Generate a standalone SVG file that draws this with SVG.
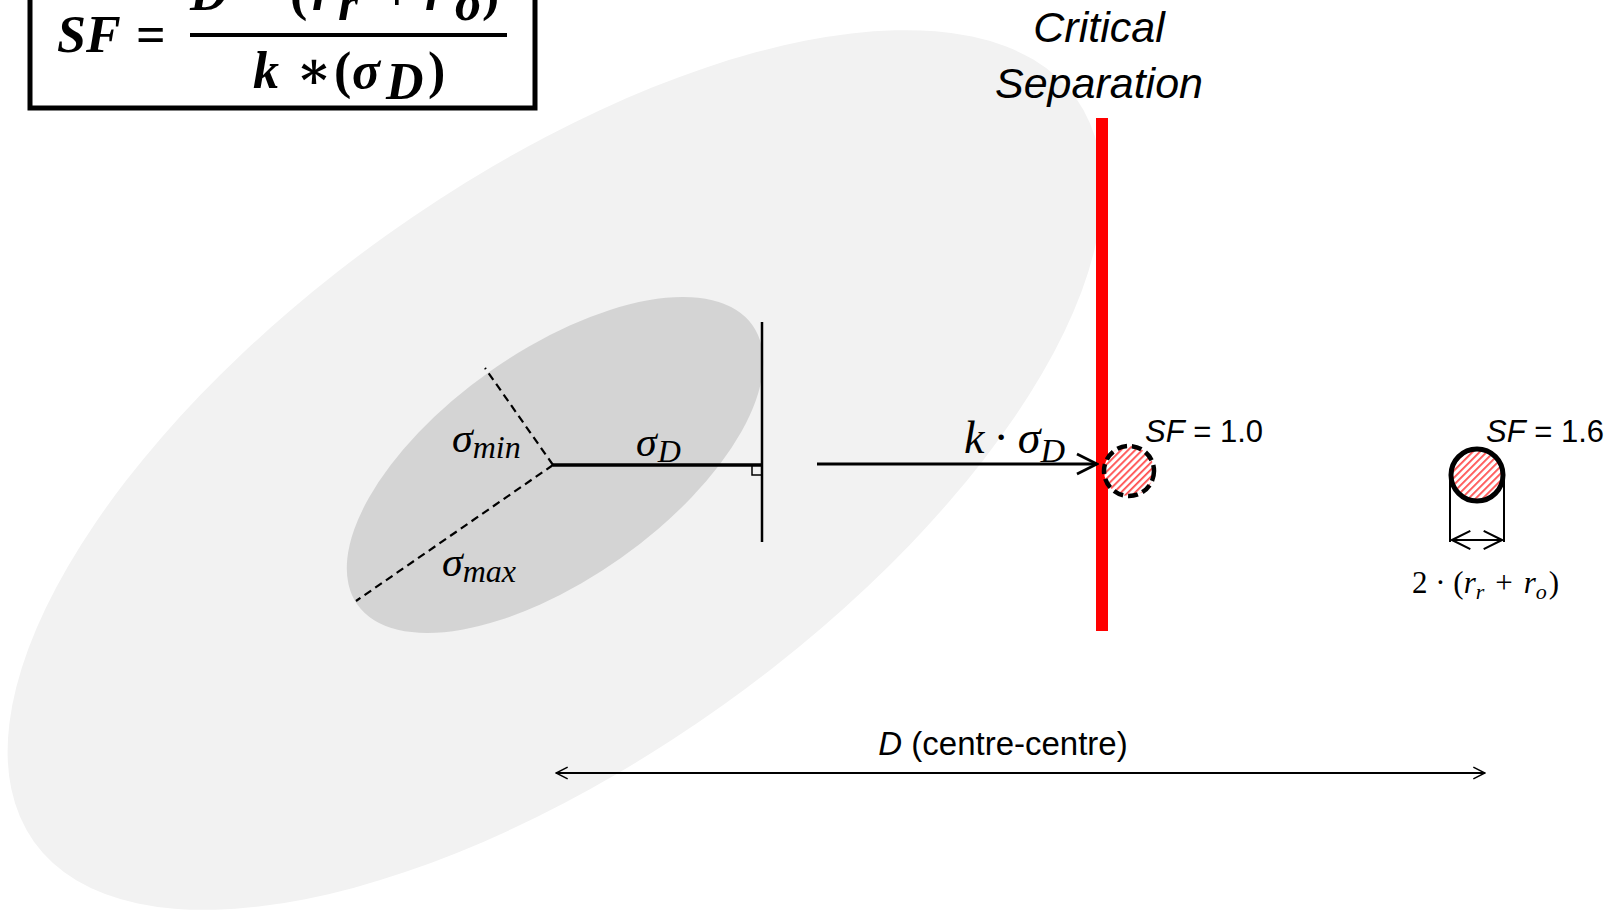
<svg xmlns="http://www.w3.org/2000/svg" width="1620" height="912" viewBox="0 0 1620 912">
  <style>
    .serif { font-family: "Liberation Serif", "DejaVu Serif", serif; }
    .fbold { font-family: "Liberation Serif", "DejaVu Serif", serif; font-weight: bold; font-size: 52px; fill: #000; }
    .mi { font-family: "Liberation Serif", "DejaVu Serif", serif; font-style: italic; fill: #000; }
    .sans { font-family: "Liberation Sans", Arial, sans-serif; fill: #000; }
    .ln { stroke: #000; fill: none; }
  </style>
  <defs>
    <pattern id="hatch" patternUnits="userSpaceOnUse" width="5" height="5" patternTransform="rotate(45)">
      <rect width="5" height="5" fill="#ffffff"/>
      <rect x="0" y="0" width="1.8" height="5" fill="#ff5050"/>
    </pattern>
    <marker id="chev" viewBox="0 0 12 12" refX="11" refY="6" markerWidth="7" markerHeight="7" orient="auto-start-reverse" markerUnits="strokeWidth">
      <path d="M1,1 L11,6 L1,11" fill="none" stroke="#000" stroke-width="1.3"/>
    </marker>
    <marker id="chevK" viewBox="0 0 12 12" refX="11" refY="6" markerWidth="8" markerHeight="8" orient="auto" markerUnits="strokeWidth">
      <path d="M1,1 L11,6 L1,11" fill="none" stroke="#000" stroke-width="1.4"/>
    </marker>
    <marker id="chevS" viewBox="0 0 12 12" refX="11" refY="6" markerWidth="11" markerHeight="11" orient="auto-start-reverse" markerUnits="strokeWidth">
      <path d="M1,1 L11,6 L1,11" fill="none" stroke="#000" stroke-width="1.1"/>
    </marker>
  </defs>

  <rect width="1620" height="912" fill="#ffffff"/>

  <!-- uncertainty ellipses -->
  <g id="outer-ellipse">
    <ellipse cx="555" cy="470" rx="640" ry="289" transform="rotate(-35.5 555 470)" fill="#f2f2f2"/>
  </g>
  <g id="inner-ellipse">
    <ellipse cx="555" cy="465" rx="242" ry="114" transform="rotate(-35.3 555 465)" fill="#d4d4d4"/>
    <line class="ln" x1="553" y1="465" x2="485" y2="368" stroke-width="2.2" stroke-dasharray="8,5"/>
    <line class="ln" x1="553" y1="465" x2="356" y2="601" stroke-width="2.2" stroke-dasharray="8,5"/>
    <text class="mi" x="452" y="452" font-size="42">σ<tspan font-size="32" dy="6">min</tspan></text>
    <text class="mi" x="442" y="576" font-size="42">σ<tspan font-size="32" dy="6">max</tspan></text>
  </g>

  <!-- sigma_D marker -->
  <g id="sigma-d">
    <line class="ln" x1="553" y1="465" x2="762" y2="465" stroke-width="3.5"/>
    <line class="ln" x1="762" y1="322" x2="762" y2="542" stroke-width="2.5"/>
    <polyline class="ln" points="752,466 752,475 762,475" stroke-width="1.5"/>
    <text class="mi" x="636" y="456" font-size="42">σ<tspan font-size="32" dx="1" dy="6">D</tspan></text>
  </g>

  <!-- critical separation -->
  <g id="critical-separation">
    <text class="sans" x="1099" y="42" font-size="43" font-style="italic" text-anchor="middle">Critical</text>
    <text class="sans" x="1099" y="98" font-size="43" font-style="italic" text-anchor="middle">Separation</text>
    <rect x="1096" y="118" width="12" height="513" fill="#ff0000"/>
  </g>

  <!-- connectors -->
  <g id="connectors">
    <line class="ln" x1="817" y1="464" x2="1097" y2="464" stroke-width="3" marker-end="url(#chevK)"/>
    <line class="ln" x1="556" y1="773" x2="1485" y2="773" stroke-width="2" marker-start="url(#chev)" marker-end="url(#chev)"/>
    <line class="ln" x1="1450" y1="476" x2="1450" y2="542" stroke-width="2"/>
    <line class="ln" x1="1504" y1="476" x2="1504" y2="542" stroke-width="2"/>
    <line class="ln" x1="1452" y1="540" x2="1502" y2="540" stroke-width="2" marker-start="url(#chevS)" marker-end="url(#chevS)"/>
  </g>

  <g id="k-sigma-label">
    <text class="mi" x="964" y="453" font-size="46">k<tspan font-style="normal" dx="9">·</tspan><tspan dx="9">σ</tspan><tspan font-size="34" dy="9">D</tspan></text>
  </g>

  <!-- object at SF=1.0 -->
  <g id="object-sf10">
    <circle cx="1129" cy="471" r="25" fill="url(#hatch)" stroke="#000" stroke-width="4.5" stroke-dasharray="10,5"/>
    <text class="sans" x="1145" y="442" font-size="31"><tspan font-style="italic">SF</tspan> = 1.0</text>
  </g>

  <!-- object at SF=1.6 -->
  <g id="object-sf16">
    <circle cx="1477" cy="475" r="26" fill="url(#hatch)" stroke="#000" stroke-width="5"/>
    <text class="sans" x="1486" y="442" font-size="31"><tspan font-style="italic">SF</tspan> = 1.6</text>
    <text class="serif" x="1412" y="593" font-size="31">2 · (<tspan font-style="italic">r</tspan><tspan font-style="italic" font-size="22" dy="6">r</tspan><tspan dy="-6" dx="11">+</tspan><tspan font-style="italic" dx="11">r</tspan><tspan font-style="italic" font-size="22" dy="6">o</tspan><tspan dy="-6" dx="2">)</tspan></text>
  </g>

  <!-- D dimension label -->
  <g id="d-label">
    <text class="sans" x="1003" y="755" font-size="33" text-anchor="middle"><tspan font-style="italic">D</tspan> (centre-centre)</text>
  </g>

  <!-- formula -->
  <g id="formula">
    <rect x="30" y="-20" width="505" height="128" fill="#ffffff" stroke="#000" stroke-width="5"/>
    <text class="fbold" x="57" y="52" font-style="italic">SF</text>
    <text class="fbold" x="136" y="52">=</text>
    <line x1="190" y1="35" x2="507" y2="35" stroke="#000" stroke-width="4"/>
    <text class="fbold" x="190" y="10" font-style="italic">D</text>
    <text class="fbold" x="238" y="10">−</text>
    <text class="fbold" x="290" y="10">(</text>
    <text class="fbold" x="312" y="10" font-style="italic">r</text>
    <text class="fbold" x="338" y="20" font-style="italic" font-size="36">r</text>
    <text class="fbold" x="382" y="10">+</text>
    <text class="fbold" x="425" y="10" font-style="italic">r</text>
    <text class="fbold" x="455" y="20" font-style="italic" font-size="36">o</text>
    <text class="fbold" x="482" y="10">)</text>
    <text class="fbold" x="253" y="88" font-style="italic">k</text>
    <text class="fbold" x="296" y="88" font-size="40">∗</text>
    <text class="fbold" x="334" y="88">(</text>
    <text class="fbold" x="352" y="88" font-style="italic" font-size="58">σ</text>
    <text class="fbold" x="386" y="99" font-style="italic" font-size="30">D</text>
    <text class="fbold" x="428" y="88">)</text>
  </g>
</svg>
